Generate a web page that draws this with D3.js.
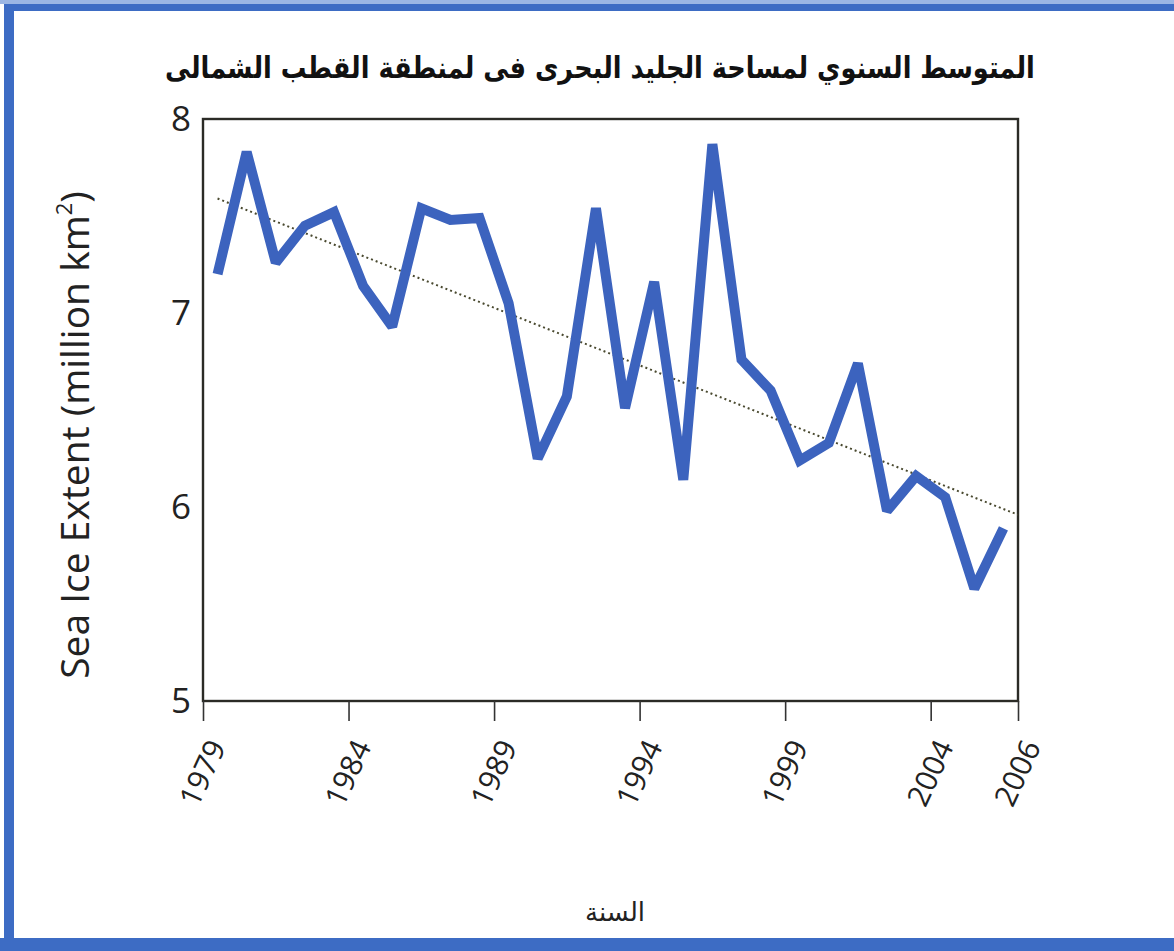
<!DOCTYPE html>
<html lang="ar">
<head>
<meta charset="utf-8">
<script src="https://cdn.jsdelivr.net/npm/d3@7"></script>
<style>
  html, body { margin: 0; padding: 0; background: #fff; }
  svg { display: block; }
</style>
</head>
<body>
<svg id="chart" width="1174" height="951"></svg>
<script>
// Annual mean Arctic sea ice extent, million km²
const years = [1979, 1980, 1981, 1982, 1983, 1984, 1985, 1986, 1987, 1988,
               1989, 1990, 1991, 1992, 1993, 1994, 1995, 1996, 1997, 1998,
               1999, 2000, 2001, 2002, 2003, 2004, 2005, 2006];
const extent = [7.20, 7.83, 7.26, 7.45, 7.52, 7.14, 6.93, 7.54, 7.48, 7.49,
                7.05, 6.25, 6.57, 7.54, 6.51, 7.16, 6.14, 7.87, 6.76, 6.60,
                6.24, 6.33, 6.74, 5.98, 6.16, 6.05, 5.58, 5.89];

// Linear trend, endpoints
const trendYears = [1979.5, 2007];
const trendValues = [7.59, 5.96];

// Axis ticks
const yTicks = [5, 6, 7, 8];
const xTickValues = [1979, 1984, 1989, 1994, 1999, 2004, 2007];
const xTickLabels = ["1979", "1984", "1989", "1994", "1999", "2004", "2006"];

const titleText = "المتوسط السنوي لمساحة الجليد البحرى فى لمنطقة القطب الشمالى";
const xTitle = "السنة";
const yTitle = "Sea Ice Extent (million km";

const latin = "'Open Sans', Lato, sans-serif";

const svg = d3.select("#chart");
const W = 1174, H = 951;
const plot = { left: 203, right: 1018, top: 119, bottom: 701 };

// page frame (blue rule on top, left and bottom)
svg.append("rect").attr("x", 0).attr("y", 0).attr("width", W).attr("height", H).attr("fill", "#fff");
svg.append("rect").attr("x", 0).attr("y", 0).attr("width", W).attr("height", 4).attr("fill", "#9bb6e4");
svg.append("rect").attr("x", 4).attr("y", 4).attr("width", W - 4).attr("height", 7).attr("fill", "#3d6cc4");
svg.append("rect").attr("x", 4).attr("y", 4).attr("width", 10).attr("height", H - 4).attr("fill", "#3d6cc4");
svg.append("rect").attr("x", 0).attr("y", 938).attr("width", W).attr("height", 13).attr("fill", "#3d6cc4");

const x = d3.scaleLinear().domain([1979, 2007]).range([plot.left, plot.right]);
const y = d3.scaleLinear().domain([5, 8]).range([plot.bottom, plot.top]);

// plot frame
svg.append("rect")
  .attr("x", plot.left).attr("y", plot.top)
  .attr("width", plot.right - plot.left).attr("height", plot.bottom - plot.top)
  .attr("fill", "#fff").attr("stroke", "#2b2b26").attr("stroke-width", 2.4);

// y axis
const yAxis = svg.append("g")
  .attr("transform", `translate(${plot.left},0)`)
  .call(d3.axisLeft(y).tickValues(yTicks).tickFormat(d3.format("d")).tickSize(0).tickPadding(12));
yAxis.select(".domain").remove();
yAxis.selectAll("text")
  .attr("font-family", latin)
  .attr("font-size", 35).attr("fill", "#222");

// x axis
const xAxis = svg.append("g")
  .attr("transform", `translate(0,${plot.bottom})`)
  .call(d3.axisBottom(x).tickValues(xTickValues)
    .tickFormat((d, i) => xTickLabels[i]).tickSize(20).tickPadding(6));
xAxis.select(".domain").remove();
xAxis.selectAll("line").attr("stroke", "#333").attr("stroke-width", 1.6);
xAxis.selectAll("text")
  .attr("font-family", latin)
  .attr("font-size", 30).attr("fill", "#222")
  .attr("text-anchor", "end")
  .attr("dy", "0.35em")
  .attr("transform", "translate(-10,30) rotate(-65)");

// trend line
svg.append("path")
  .datum(trendYears.map((t, i) => [t, trendValues[i]]))
  .attr("fill", "none").attr("stroke", "#4a4a30").attr("stroke-width", 2)
  .attr("stroke-dasharray", "2,3")
  .attr("d", d3.line().x(d => x(d[0])).y(d => y(d[1])));

// data line
svg.append("path")
  .datum(years.map((yr, i) => [yr + 0.5, extent[i]]))
  .attr("fill", "none").attr("stroke", "#3c63be").attr("stroke-width", 10)
  .attr("stroke-linejoin", "miter").attr("stroke-miterlimit", 2)
  .attr("d", d3.line().x(d => x(d[0])).y(d => y(d[1])));

// chart title, condensed horizontally to its slot
const title = svg.append("text")
  .attr("x", 0).attr("y", 0)
  .attr("text-anchor", "middle").attr("direction", "rtl")
  .attr("font-family", "'DejaVu Sans', sans-serif").attr("font-weight", "bold")
  .attr("font-size", 30).attr("fill", "#111")
  .text(titleText);
const titleW = title.node().getComputedTextLength();
const sx = Math.min(1, 870 / titleW);
title.attr("transform", `translate(600,78) scale(${sx},1)`);

svg.append("text")
  .attr("x", 615).attr("y", 921)
  .attr("text-anchor", "middle").attr("direction", "rtl")
  .attr("font-family", "'DejaVu Sans', sans-serif")
  .attr("font-size", 26).attr("fill", "#222")
  .text(xTitle);

const yt = svg.append("text")
  .attr("transform", "translate(89,435) rotate(-90)")
  .attr("text-anchor", "middle")
  .attr("font-family", latin)
  .attr("font-size", 39).attr("fill", "#222");
yt.append("tspan").text(yTitle);
yt.append("tspan").attr("font-size", 22).attr("dy", -17).text("2");
yt.append("tspan").attr("dy", 17).text(")");
</script>
</body>
</html>
